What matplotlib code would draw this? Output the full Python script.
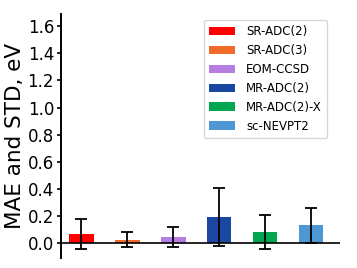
import matplotlib
matplotlib.use('Agg')
from matplotlib import pyplot as plt

methods = ['SR-ADC(2)', 'SR-ADC(3)', 'EOM-CCSD', 'MR-ADC(2)', 'MR-ADC(2)-X', 'sc-NEVPT2']
mae = [0.065, 0.027, 0.045, 0.195, 0.081, 0.132]
std = [0.110, 0.054, 0.074, 0.214, 0.125, 0.130]
colors = ['#ff0000', '#f26a2a', '#b57ee0', '#1a48a0', '#00a650', '#4d97d5']

fig = plt.figure(figsize=(3.57, 2.68), dpi=100)
ax = fig.add_axes([0.171, 0.037, 0.781, 0.911])

for i, (m, v, s, c) in enumerate(zip(methods, mae, std, colors)):
    ax.bar(i, v, 0.54, yerr=s, color=c, label=m, capsize=4,
           error_kw={'elinewidth': 1.3, 'capthick': 1.3})

ax.axhline(0, color='black', lw=1.2)
ax.set_xlim(-0.44, 5.63)
ax.set_ylim(-0.11, 1.69)
ax.set_yticks([0.0, 0.2, 0.4, 0.6, 0.8, 1.0, 1.2, 1.4, 1.6])
ax.set_xticks([])
ax.tick_params(axis='y', labelsize=12, width=1.2, length=3, pad=2)
for side in ['top', 'right', 'bottom']:
    ax.spines[side].set_visible(False)
ax.spines['left'].set_linewidth(1.4)
ax.set_ylabel('MAE and STD, eV', fontsize=15.5, labelpad=2)
ax.legend(fontsize=8.5, loc='upper right', bbox_to_anchor=(0.975, 1.0),
          handlelength=2.2, labelspacing=0.5, borderpad=0.45, handletextpad=0.9)

fig.savefig('out.png', dpi=100)
